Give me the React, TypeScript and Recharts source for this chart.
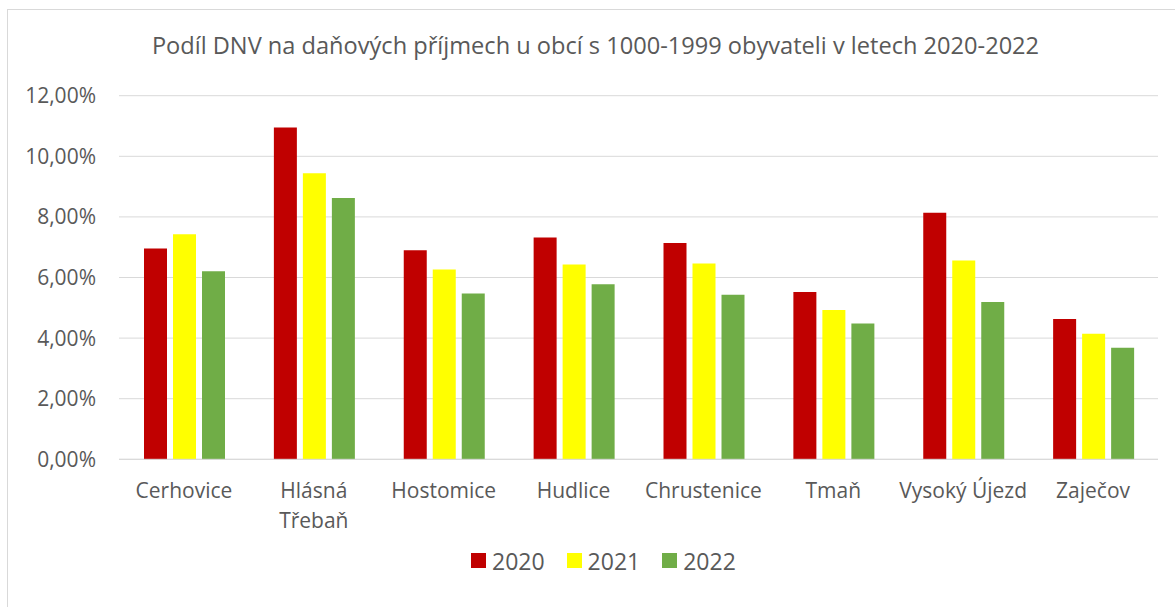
import React from 'react';
import { BarChart, Bar, XAxis, YAxis, CartesianGrid, Legend } from 'recharts';

const categories = [
  'Cerhovice',
  'Hlásná\nTřebaň',
  'Hostomice',
  'Hudlice',
  'Chrustenice',
  'Tmaň',
  'Vysoký Újezd',
  'Zaječov'
];
const values2020 = [6.96, 10.95, 6.9, 7.32, 7.14, 5.52, 8.14, 4.63];
const values2021 = [7.43, 9.44, 6.26, 6.43, 6.46, 4.93, 6.56, 4.14];
const values2022 = [6.21, 8.62, 5.47, 5.78, 5.43, 4.48, 5.19, 3.68];
const yTicks = [0, 2, 4, 6, 8, 10, 12];

const TEXT = '#595959';
const GRID = '#d9d9d9';
const FONT = "'Open Sans', sans-serif";

const data = categories.map((name, i) => ({
  name,
  y2020: values2020[i],
  y2021: values2021[i],
  y2022: values2022[i]
}));

const formatPct = (v: number) => `${v.toFixed(2).replace('.', ',')}%`;

function CategoryTick({ x, y, payload }: any) {
  const lines = String(payload.value).split('\n');
  return (
    <text x={x} y={y} textAnchor="middle" fill={TEXT} fontSize={21} fontFamily={FONT}>
      {lines.map((line, i) => (
        <tspan key={i} x={x} dy={i === 0 ? 39 : 30}>
          {line}
        </tspan>
      ))}
    </text>
  );
}

function renderLegend({ payload }: any) {
  return (
    <div style={{ display: 'flex', alignItems: 'center', fontFamily: FONT }}>
      {(payload || []).map((item: any) => (
        <div
          key={item.value}
          style={{ display: 'flex', alignItems: 'center', marginRight: 22, height: 30 }}
        >
          <span style={{ width: 15, height: 15, background: item.color, display: 'inline-block' }} />
          <span style={{ marginLeft: 6, fontSize: 23, color: TEXT }}>{item.value}</span>
        </div>
      ))}
    </div>
  );
}

export default function App() {
  return (
    <div
      style={{
        position: 'absolute',
        left: 0,
        top: 0,
        width: 1175,
        height: 607,
        overflow: 'hidden',
        background: '#fff',
        fontFamily: FONT
      }}
    >
      <div
        style={{
          position: 'absolute',
          left: 7,
          top: 9,
          width: 1250,
          height: 700,
          border: `1px solid ${GRID}`
        }}
      />
      <div
        style={{
          position: 'absolute',
          left: 8,
          top: 31,
          width: 1175,
          textAlign: 'center',
          fontSize: 23.6,
          lineHeight: '28px',
          color: TEXT,
          whiteSpace: 'nowrap'
        }}
      >
        Podíl DNV na daňových příjmech u obcí s 1000-1999 obyvateli v letech 2020-2022
      </div>
      <div style={{ position: 'absolute', left: 0, top: 0 }}>
        <BarChart
          width={1175}
          height={607}
          data={data}
          margin={{ top: 95.7, right: 17, left: 19, bottom: 87.7 }}
          barCategoryGap={25}
          barGap={6}
        >
          <CartesianGrid vertical={false} stroke={GRID} />
          <XAxis
            dataKey="name"
            interval={0}
            height={60}
            tickLine={false}
            tickSize={0}
            tickMargin={0}
            axisLine={{ stroke: GRID }}
            tick={<CategoryTick />}
          />
          <YAxis
            width={100}
            domain={[0, 12]}
            ticks={yTicks}
            tickFormatter={formatPct}
            axisLine={false}
            tickLine={false}
            tickSize={0}
            tickMargin={23}
            tick={{ fill: TEXT, fontSize: 21 }}
          />
          <Legend
            verticalAlign="middle"
            layout="horizontal"
            align="center"
            wrapperStyle={{ top: 545.5, left: 471, width: 320 }}
            content={renderLegend}
          />
          <Bar dataKey="y2020" name="2020" fill="#c00000" isAnimationActive={false} />
          <Bar dataKey="y2021" name="2021" fill="#ffff00" isAnimationActive={false} />
          <Bar dataKey="y2022" name="2022" fill="#70ad47" isAnimationActive={false} />
        </BarChart>
      </div>
    </div>
  );
}
